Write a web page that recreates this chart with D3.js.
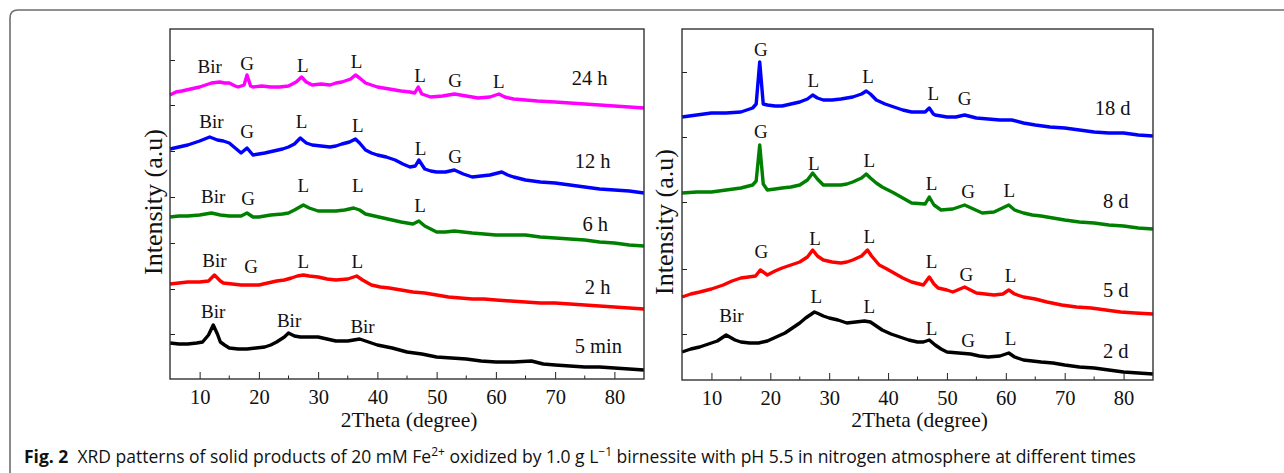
<!DOCTYPE html>
<html>
<head>
<meta charset="utf-8">
<script src="https://cdn.jsdelivr.net/npm/d3@7"></script>
<style>
  body { margin: 0; background: #fff; }
  svg { display: block; }
</style>
</head>
<body>
<svg id="chart" width="1284" height="473"></svg>
<script>
// XRD traces, [2theta, intensity (a.u., offset stacked)]
var t24h = [[5,284],[6,287],[7,288],[8.5,290],[10,292],[11,294],[12,296],[13.4,297],[14.2,296],[15,296],[16,293],[16.5,292],[17.5,294],[18,304],[18.6,293],[19,292],[20.5,293],[22,292],[23.5,292],[25,293],[26.3,297],[27.2,302],[28,297],[29,294],[30.5,295],[32,294],[33,296],[34,297],[35.5,300],[36.3,304],[37,301],[38,296],[39,294],[40,292],[42,290],[44,288],[45.5,287],[46.3,286],[46.9,292],[47.5,285],[49,282],[51,283],[53,285],[55,283],[57,281],[59,282],[60.5,285],[61.5,282],[63,280],[65,279],[67,278],[70,277],[72.5,276],[75,275],[77.5,274],[80,273],[82.5,272],[85,271]];
var t12h = [[5,230],[6.5,232],[8,234],[10,238],[11.7,242],[13,239],[14,238],[15,236],[16,231],[17,226],[18,231],[19,224],[20,225],[21,226],[22.5,228],[24,230],[25,232],[26,235],[27,241],[28,236],[29,234],[30.5,233],[32,232],[33,233],[34,235],[35.3,237],[36.3,240],[37,236],[38,229],[39,226],[40,224],[41.5,222],[43,219],[44.3,215],[45.5,212],[46.4,213],[47,219],[48,210],[49,208],[50,207],[51.5,207],[53,209],[54.5,205],[56,202],[57.5,203],[59,204],[61,207],[62,204],[63,202],[65,199],[67.5,197],[70,196],[72.5,194],[75,192],[77.5,190],[80,189],[82.5,188],[85,186]];
var t6h = [[5,162],[6.5,163],[8,163],[10,164],[12,166],[13.5,164],[15,163],[17,163],[18,166],[19,162],[20,162],[22,164],[24,165],[25,166],[26,169],[27.5,174],[28.5,171],[29,170],[30,168],[31.5,168],[33,168],[34.5,169],[36,171],[37,169],[38,165],[39.5,163],[41,161],[42.5,159],[44,157],[45,156],[46,155],[47,158],[48,153],[49,150],[50,147],[51.5,147],[53,148],[54.5,147],[56,146],[58,145],[60,144],[62.5,144],[65,144],[67.5,142],[70,141],[72.5,140],[75,139],[77.5,137],[80,136],[82.5,134],[85,133]];
var t2h = [[5,95],[6.5,96],[8,97],[10,97],[11.5,98],[12.5,104],[13.5,98],[14,96],[15.5,95],[17,94],[18.5,94],[20,94],[21.5,96],[23,98],[24.3,99],[25.5,101],[26.5,103],[27.5,104],[28.5,103],[30,102],[31.5,100],[33,99],[35,100],[36.5,103],[37.5,99],[39,94],[40.5,92],[42,91],[44,89],[46,87],[48,86],[50,84],[52,82],[54,81],[56,80],[58,80],[60,79],[62.5,78],[65,77],[67.5,76],[70,76],[72.5,75],[75,74],[77.5,73],[80,72],[82.5,71],[85,70]];
var t5min = [[5,36],[6.5,35],[8,35],[9.5,36],[10.5,37],[11.5,44],[12.3,54],[13,45],[13.5,37],[14.2,34],[15,31],[16.5,30],[18,30],[19.5,31],[21,32],[22,34],[23,37],[24.3,42],[25,46],[26,43],[27,42],[28.5,42],[30,42],[31.5,40],[33,38],[35,38],[37,40],[38.5,37],[40,34],[42.5,31],[45,27],[47.5,25],[50,22],[52.5,21],[55,20],[57.5,18],[60,17],[63,17],[66,18],[68,15],[70,14],[72.5,13],[75,12],[77.5,12],[80,11],[82.5,10],[85,9]];

var t18d = [[5,263],[7.5,265],[10,267],[12.5,267],[15,268],[17,272],[17.6,276],[18.2,318],[18.8,276],[19.5,275],[20.8,274],[22,274],[23.5,276],[25,278],[26.3,281],[27.2,285],[28,282],[29,280],[30.5,280],[32,281],[33,282],[34,283],[35.5,286],[36.3,289],[37,286],[38,280],[39.5,276],[41,273],[42.5,270],[44,268],[46.3,268],[47,272],[47.7,266],[48,265],[50,263],[51.5,263],[53,265],[55,262],[57,261],[59,260],[61,260],[63,257],[65,255],[67.5,253],[70,252],[72.5,250],[75,248],[77.5,247],[80,247],[82.5,245],[85,244]];
var t8d = [[5,187],[7.5,188],[10,188],[12.5,190],[15,192],[17,195],[17.6,199],[18.2,235],[18.8,196],[19.5,190],[20.8,191],[22,192],[23.5,193],[25,195],[26.3,200],[27.2,207],[28,201],[29,195],[30.5,195],[32,195],[33,196],[34,198],[35.5,202],[36.3,206],[37,202],[38,197],[39,193],[40,190],[41,187],[42.5,182],[44,177],[46.3,176],[47,183],[47.8,175],[49,170],[51,171],[53,175],[54.5,171],[56,167],[58,168],[60.5,175],[61.5,170],[63,167],[64.5,165],[66,164],[68,162],[70,160],[72.5,158],[75,157],[77.5,155],[80,154],[82.5,152],[85,151]];
var t5d = [[5,83],[6.5,86],[8,88],[10,91],[12,95],[13.5,99],[15,102],[16.3,103],[17.5,104],[18.3,110],[19.5,105],[20.8,109],[22,112],[23.5,115],[25,118],[26.3,123],[27.2,130],[28,124],[29,120],[30.5,118],[32,117],[33,118],[34,120],[35.5,124],[36.5,130],[37.2,124],[38.5,115],[39.8,111],[41,107],[42.5,102],[44,98],[46,95],[47,103],[47.8,96],[48.5,92],[50,90],[51,88],[53,93],[55,87],[56.5,86],[58,85],[59.5,86],[60.5,90],[61.5,86],[63,83],[65,81],[67,78],[69.5,75],[72,73],[74.5,72],[77,70],[79.5,68],[82,67],[85,66]];
var t2d = [[5,28],[6.5,31],[8,33],[9.5,36],[11,39],[12.5,45],[14,40],[15,38],[16.5,37],[18,37],[19.5,39],[21,43],[22.5,47],[24,53],[25,57],[26,62],[27.5,68],[28.3,66],[29,64],[30,62],[31.5,60],[33,57],[34.5,58],[36,59],[37,58],[38,54],[39,50],[40.5,46],[42,43],[43.5,40],[45,38],[46,38],[47,40],[48,35],[49,31],[50,28],[52,27],[54,26],[55.5,24],[57,23],[59,24],[60.5,27],[61.5,23],[63,20],[64.5,19],[66,18],[68,17],[70,15],[72.5,13],[75,12],[77.5,10],[80,8],[82.5,7],[85,6]];

var leftSeries = [
    {name: "24 h", color: "#ff00ff", data: t24h},
    {name: "12 h", color: "#0000ff", data: t12h},
    {name: "6 h", color: "#008000", data: t6h},
    {name: "2 h", color: "#ff0000", data: t2h},
    {name: "5 min", color: "#000000", data: t5min}
];
var rightSeries = [
    {name: "18 d", color: "#0000ff", data: t18d},
    {name: "8 d", color: "#008000", data: t8d},
    {name: "5 d", color: "#ff0000", data: t5d},
    {name: "2 d", color: "#000000", data: t2d}
];

// sample names, [2theta, intensity] where the text starts
var leftNameAt = [[72.8,294],[73.3,211],[74.6,148],[75.0,85],[73.3,26]];
var rightNameAt = [[75.1,265],[76.5,172],[76.5,83],[76.5,22]];

// phase labels [2theta, intensity, text]
var leftPeaks = [
    [11.7,306,"Bir"],[18.0,309,"G"],[27.4,307,"L"],[36.5,311,"L"],[47.2,297,"L"],[53.1,292,"G"],[60.5,291,"L"],
    [12.0,251,"Bir"],[18.0,241,"G"],[27.2,251,"L"],[36.7,247,"L"],[47.3,224,"L"],[53.1,216,"G"],
    [12.3,176,"Bir"],[18.2,174,"G"],[27.5,187,"L"],[36.7,187,"L"],[47.2,167,"L"],
    [12.5,112,"Bir"],[18.7,106,"G"],[27.5,111,"L"],[36.6,111,"L"],
    [12.3,61,"Bir"],[25.1,52,"Bir"],[37.5,46,"Bir"]
];
var rightPeaks = [
    [18.4,324,"G"],[27.3,293,"L"],[36.6,297,"L"],[47.7,280,"L"],[53.0,275,"G"],
    [18.4,242,"G"],[27.4,210,"L"],[36.8,213,"L"],[47.4,190,"L"],[53.6,182,"G"],[60.6,183,"L"],
    [18.5,122,"G"],[27.6,135,"L"],[36.8,137,"L"],[47.4,112,"L"],[53.3,99,"G"],[60.8,98,"L"],
    [13.4,58,"Bir"],[27.8,77,"L"],[36.8,67,"L"],[47.4,45,"L"],[53.6,33,"G"],[60.8,35,"L"]
];

var xTicks = [10, 20, 30, 40, 50, 60, 70, 80];
var xMinor = [15, 25, 35, 45, 55, 65, 75];
var leftYTicks = [45, 90, 136, 182, 228, 274, 319];
var rightYTicks = [46, 111, 178, 243, 308];

var svg = d3.select("#chart");
var serif = "'Liberation Serif', 'Times New Roman', serif";

// outer frame of the figure box
svg.append("path")
    .attr("d", "M10,473 L10,18 Q10,10 18,10 L1284,10")
    .attr("fill", "none")
    .attr("stroke", "#6e6e6e")
    .attr("stroke-width", 1.6);

function drawPanel(p) {
    var x = d3.scaleLinear().domain([5, 85]).range([p.left, p.right]);
    var y = d3.scaleLinear().domain([0, p.top]).range([p.bottom, 29]);
    var g = svg.append("g");

    // traces
    var line = d3.line()
        .x(function (d) { return x(d[0]); })
        .y(function (d) { return y(d[1]); });
    g.selectAll(".trace")
        .data(p.series)
        .enter().append("path")
        .attr("class", "trace")
        .attr("d", function (d) { return line(d.data); })
        .attr("fill", "none")
        .attr("stroke", function (d) { return d.color; })
        .attr("stroke-width", 3.4)
        .attr("stroke-linejoin", "round");

    // axes
    var xAxis = g.append("g")
        .attr("transform", "translate(0," + p.bottom + ")")
        .call(d3.axisBottom(x).tickValues(xTicks).tickSize(-7).tickPadding(10).tickSizeOuter(0));
    xAxis.append("g").selectAll("line")
        .data(xMinor).enter().append("line")
        .attr("x1", function (d) { return x(d); })
        .attr("x2", function (d) { return x(d); })
        .attr("y1", 0).attr("y2", -3.5)
        .attr("stroke", "#222");
    xAxis.selectAll("text")
        .style("font-family", serif)
        .style("font-size", "20.5px")
        .attr("fill", "#111");
    xAxis.select(".domain").remove();

    var yAxis = g.append("g")
        .attr("transform", "translate(" + p.left + ",0)")
        .call(d3.axisLeft(y).tickValues(p.yTicks).tickSize(-5).tickFormat("").tickSizeOuter(0));
    yAxis.select(".domain").remove();
    g.selectAll(".tick line").attr("stroke", "#222");

    // plot frame
    g.append("rect")
        .attr("x", p.left).attr("y", 29)
        .attr("width", p.right - p.left).attr("height", p.bottom - 29)
        .attr("fill", "none")
        .attr("stroke", "#333")
        .attr("stroke-width", 1.4);

    // peak labels
    g.selectAll(".peak")
        .data(p.peaks)
        .enter().append("text")
        .attr("x", function (d) { return x(d[0]); })
        .attr("y", function (d) { return y(d[1]); })
        .attr("text-anchor", "middle")
        .style("font-family", serif)
        .style("font-size", "19px")
        .attr("fill", "#111")
        .text(function (d) { return d[2]; });

    // sample names
    g.selectAll(".name")
        .data(p.series)
        .enter().append("text")
        .attr("x", function (d, i) { return x(p.nameAt[i][0]); })
        .attr("y", function (d, i) { return y(p.nameAt[i][1]); })
        .style("font-family", serif)
        .style("font-size", "20.5px")
        .attr("fill", "#111")
        .text(function (d) { return d.name; });

    // axis titles
    g.append("text")
        .attr("x", (p.left + p.right) / 2 + 2)
        .attr("y", 427)
        .attr("text-anchor", "middle")
        .style("font-family", serif)
        .style("font-size", "21.5px")
        .attr("fill", "#111")
        .text("2Theta (degree)");
    g.append("text")
        .attr("transform", "translate(" + p.titleX + "," + p.titleY + ") rotate(-90)")
        .attr("text-anchor", "middle")
        .style("font-family", serif)
        .style("font-size", "26px")
        .attr("fill", "#111")
        .text("Intensity (a.u)");
}

drawPanel({left: 170, right: 644, bottom: 379, top: 350, series: leftSeries,
    nameAt: leftNameAt, peaks: leftPeaks, yTicks: leftYTicks, titleX: 162, titleY: 202});
drawPanel({left: 682, right: 1153, bottom: 380, top: 351, series: rightSeries,
    nameAt: rightNameAt, peaks: rightPeaks, yTicks: rightYTicks, titleX: 673, titleY: 222});

// caption
var cap = svg.append("text")
    .attr("x", 24)
    .attr("y", 463)
    .style("font-family", "'Open Sans', 'Noto Sans', sans-serif")
    .style("font-size", "17.5px")
    .attr("fill", "#111");
cap.append("tspan").style("font-weight", "bold").text("Fig. 2");
cap.append("tspan").attr("dx", 9).text("XRD patterns of solid products of 20 mM Fe");
cap.append("tspan").attr("dy", -7).style("font-size", "12px").text("2+");
cap.append("tspan").attr("dy", 7).text(" oxidized by 1.0 g L");
cap.append("tspan").attr("dy", -7).style("font-size", "12px").text("\u22121");
cap.append("tspan").attr("dy", 7).text(" birnessite with pH 5.5 in nitrogen atmosphere at different times");
</script>
</body>
</html>
